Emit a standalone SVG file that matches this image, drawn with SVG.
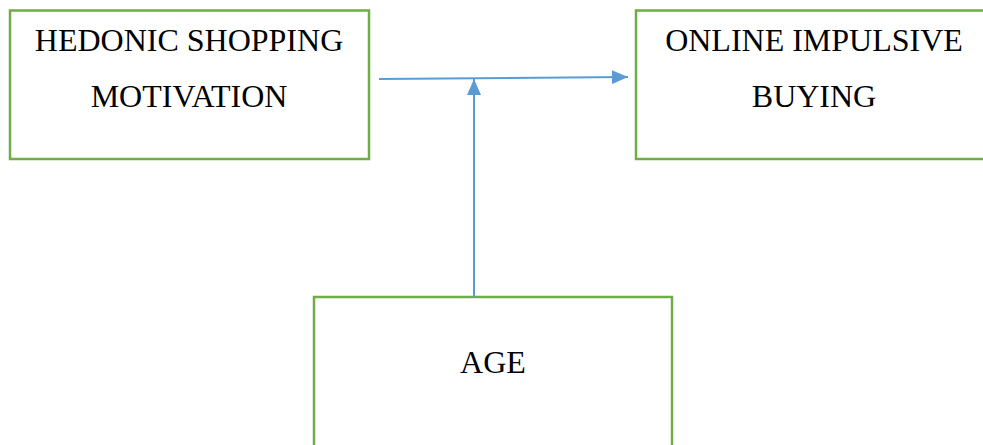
<svg xmlns="http://www.w3.org/2000/svg" width="983" height="445" viewBox="0 0 983 445">
<style>
.box{fill:#fff;stroke:#70AD47;stroke-width:2.5}
.lbl{font-family:"Liberation Serif","Times New Roman",serif;font-size:32px;fill:#000;text-anchor:middle}
.conn{stroke:#5B9BD5;stroke-width:2;fill:none}
</style>
<defs>
<marker id="ah2" viewBox="0 0 10 10" refX="10" refY="5" markerWidth="16" markerHeight="14" markerUnits="userSpaceOnUse" orient="auto" preserveAspectRatio="none">
<path d="M0,0 L10,5 L0,10 z" fill="#5B9BD5"/>
</marker>
</defs>
<g id="hedonic">
<rect class="box" x="10" y="10.5" width="359" height="148.5"/>
<text class="lbl" x="189" y="51">HEDONIC SHOPPING</text>
<text class="lbl" x="189" y="107">MOTIVATION</text>
</g>
<g id="online">
<rect class="box" x="636" y="10.5" width="360" height="148.5"/>
<text class="lbl" x="814" y="51">ONLINE IMPULSIVE</text>
<text class="lbl" x="814" y="107">BUYING</text>
</g>
<g id="age">
<rect class="box" x="314" y="297" width="358" height="160"/>
<text class="lbl" x="493" y="373">AGE</text>
</g>
<g id="connectors">
<line class="conn" x1="379" y1="79" x2="628" y2="77" marker-end="url(#ah2)"/>
<line class="conn" x1="474" y1="297" x2="474" y2="79" marker-end="url(#ah2)"/>
</g>
</svg>
